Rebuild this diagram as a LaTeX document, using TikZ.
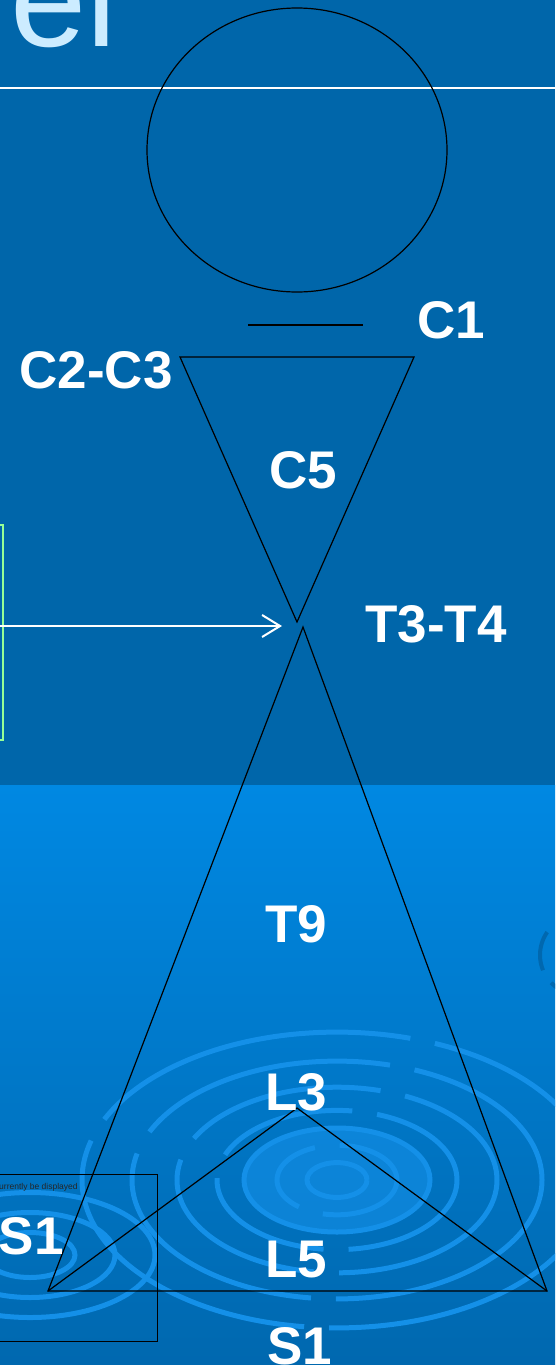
\documentclass[tikz,border=0pt]{standalone}
\usepackage{fontspec}
\setmainfont{Liberation Sans}
\usetikzlibrary{arrows.meta}
\definecolor{slidetop}{RGB}{0,102,170}
\definecolor{slidelow}{RGB}{0,136,226}
\definecolor{slidebot}{RGB}{0,104,175}
\definecolor{ripple}{RGB}{20,144,232}
\definecolor{titleblue}{RGB}{204,236,255}
\definecolor{boxgreen}{RGB}{150,255,150}
\tikzset{
  lbl/.style={text=white, font=\fontsize{53}{53}\selectfont\bfseries, inner sep=0pt, anchor=base},
  edge/.style={black, line width=1.2pt},
  wave/.style={ripple, line width=5pt}
}
\begin{document}
\begin{tikzpicture}[x=1pt, y=-1pt]
    \useasboundingbox (0,0) rectangle (555,1365);
    \clip (0,0) rectangle (555,1365);

    % background
    \fill[slidetop] (0,0) rectangle (555,785);
    \shade[top color=slidelow, bottom color=slidebot] (0,785) rectangle (555,1365);

    % ripples
    \fill[ripple, opacity=0.6] (337,1180) ellipse (93 and 52);
    \foreach \r/\d in {30/300, 60/90, 120/140, 160/200, 205/260, 255/330}
        \draw[wave, dash pattern=on {\d pt} off 25pt] (337,1180) ellipse ({\r} and {0.58*\r});
    \draw[wave] (337,1180) ellipse (93 and 52);
    \foreach \r in {45,85,125}
        \draw[wave] (30,1255) ellipse ({\r} and {0.5*\r});
    \foreach \r in {20,40}
        \draw[slidebot, line width=4pt, dash pattern=on 40pt off 15pt] (580,955) ellipse ({\r} and {\r});

    % title
    \node[text=titleblue, font=\fontsize{137}{137}\selectfont, inner sep=0pt, anchor=base west] (title) at (10,46) {el};
    \draw[white, line width=1.5pt] (0,88) -- (555,88);

    % side boxes
    \draw[boxgreen, line width=1.5pt] (-10,525) rectangle (3,740);
    \draw[black, line width=0.8pt] (-10,1174) rectangle (157,1341);
    \node[font=\fontsize{8.5}{9}\selectfont, text=black!85, inner sep=0pt, anchor=base west] (msg) at (-1,1189) {urrently be displayed};

    % head
    \draw[edge] (297,150) ellipse (150 and 142);
    \draw[edge] (248,325) -- (363,325);

    % vertices
    \coordinate (cl) at (180,357);
    \coordinate (cr) at (414,357);
    \coordinate (cb) at (297,622);
    \coordinate (tt) at (303,627);
    \coordinate (bl) at (48,1291);
    \coordinate (br) at (547,1291);
    \coordinate (lt) at (297,1108);
    \coordinate (src) at (0,626);
    \coordinate (dst) at (282,626);

    \draw[edge, line join=miter] (cl) -- (cr) -- (cb) -- cycle;
    \draw[edge] (tt) -- (bl) -- (br) -- cycle;
    \draw[edge] (bl) -- (lt) -- (br);
    \draw[white, line width=2pt, -{Straight Barb[length=18pt, width=22pt, line width=2pt]}] (src) -- (dst);

    % labels
    \node[lbl] (c1) at (451,338) {C1};
    \node[lbl] (c23) at (96,388) {C2-C3};
    \node[lbl] (c5) at (303,488) {C5};
    \node[lbl] (t34) at (436,642) {T3-T4};
    \node[lbl] (t9) at (296,942) {T9};
    \node[lbl] (l3) at (296,1110) {L3};
    \node[lbl] (l5) at (296,1277) {L5};
    \node[lbl] (s1) at (300,1364) {S1};
    \node[lbl, anchor=base east] (vs1) at (64,1254) {VS1};
\end{tikzpicture}
\end{document}
